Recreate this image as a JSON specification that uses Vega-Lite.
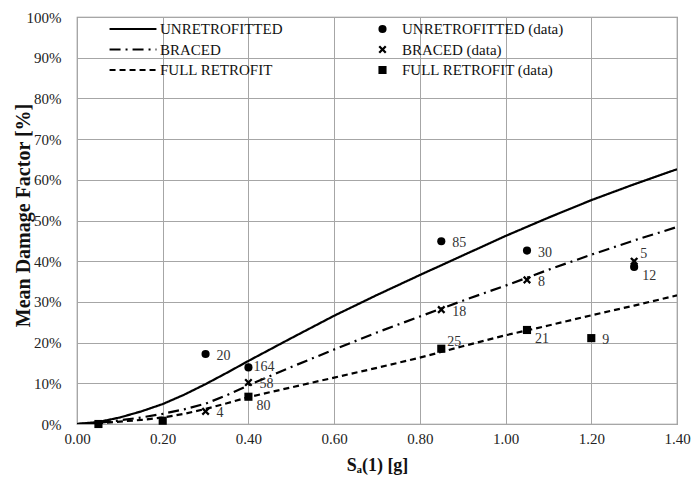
{
  "$schema": "https://vega.github.io/schema/vega-lite/v6.json",
  "width": 600,
  "height": 407,
  "autosize": {"type": "none"},
  "padding": {"left": 77, "top": 17, "right": 15, "bottom": 54},
  "background": "white",
  "config": {
    "font": "Liberation Serif",
    "view": {"stroke": "#8a8a8a", "strokeWidth": 1.2},
    "axis": {"gridColor": "#a6a6a6", "gridOpacity": 1, "gridWidth": 1, "domain": false, "ticks": false, "labelFlush": false, "labelFont": "Liberation Serif", "labelFontSize": 15, "labelColor": "#222", "titleFont": "Liberation Serif", "titleColor": "#111"}
  },
  "datasets": {
    "curves": [
      {"series": "UNRETROFITTED", "sa": 0, "mdf": 0},
      {"series": "UNRETROFITTED", "sa": 0.05, "mdf": 0.5},
      {"series": "UNRETROFITTED", "sa": 0.1, "mdf": 1.6},
      {"series": "UNRETROFITTED", "sa": 0.15, "mdf": 3.1},
      {"series": "UNRETROFITTED", "sa": 0.2, "mdf": 4.9},
      {"series": "UNRETROFITTED", "sa": 0.25, "mdf": 7.2},
      {"series": "UNRETROFITTED", "sa": 0.3, "mdf": 9.8},
      {"series": "UNRETROFITTED", "sa": 0.35, "mdf": 12.6},
      {"series": "UNRETROFITTED", "sa": 0.4, "mdf": 15.5},
      {"series": "UNRETROFITTED", "sa": 0.5, "mdf": 21.1},
      {"series": "UNRETROFITTED", "sa": 0.6, "mdf": 26.6},
      {"series": "UNRETROFITTED", "sa": 0.7, "mdf": 31.7},
      {"series": "UNRETROFITTED", "sa": 0.8, "mdf": 36.6},
      {"series": "UNRETROFITTED", "sa": 0.9, "mdf": 41.4},
      {"series": "UNRETROFITTED", "sa": 1.0, "mdf": 46.2},
      {"series": "UNRETROFITTED", "sa": 1.1, "mdf": 50.7},
      {"series": "UNRETROFITTED", "sa": 1.2, "mdf": 55.0},
      {"series": "UNRETROFITTED", "sa": 1.3, "mdf": 58.9},
      {"series": "UNRETROFITTED", "sa": 1.4, "mdf": 62.6},
      {"series": "BRACED", "sa": 0, "mdf": 0},
      {"series": "BRACED", "sa": 0.05, "mdf": 0.3},
      {"series": "BRACED", "sa": 0.1, "mdf": 0.9},
      {"series": "BRACED", "sa": 0.15, "mdf": 1.6},
      {"series": "BRACED", "sa": 0.2, "mdf": 2.5},
      {"series": "BRACED", "sa": 0.25, "mdf": 3.6},
      {"series": "BRACED", "sa": 0.3, "mdf": 5.0},
      {"series": "BRACED", "sa": 0.35, "mdf": 7.1},
      {"series": "BRACED", "sa": 0.4, "mdf": 9.5},
      {"series": "BRACED", "sa": 0.5, "mdf": 14.0},
      {"series": "BRACED", "sa": 0.6, "mdf": 18.3},
      {"series": "BRACED", "sa": 0.7, "mdf": 22.5},
      {"series": "BRACED", "sa": 0.8, "mdf": 26.4},
      {"series": "BRACED", "sa": 0.9, "mdf": 30.3},
      {"series": "BRACED", "sa": 1.0, "mdf": 34.0},
      {"series": "BRACED", "sa": 1.1, "mdf": 37.9},
      {"series": "BRACED", "sa": 1.2, "mdf": 41.6},
      {"series": "BRACED", "sa": 1.3, "mdf": 45.1},
      {"series": "BRACED", "sa": 1.4, "mdf": 48.4},
      {"series": "FULL RETROFIT", "sa": 0, "mdf": 0},
      {"series": "FULL RETROFIT", "sa": 0.05, "mdf": 0.2},
      {"series": "FULL RETROFIT", "sa": 0.1, "mdf": 0.6},
      {"series": "FULL RETROFIT", "sa": 0.15, "mdf": 1.0},
      {"series": "FULL RETROFIT", "sa": 0.2, "mdf": 1.6},
      {"series": "FULL RETROFIT", "sa": 0.25, "mdf": 2.5},
      {"series": "FULL RETROFIT", "sa": 0.3, "mdf": 3.7},
      {"series": "FULL RETROFIT", "sa": 0.35, "mdf": 5.1},
      {"series": "FULL RETROFIT", "sa": 0.4, "mdf": 6.6},
      {"series": "FULL RETROFIT", "sa": 0.5, "mdf": 9.0},
      {"series": "FULL RETROFIT", "sa": 0.6, "mdf": 11.4},
      {"series": "FULL RETROFIT", "sa": 0.7, "mdf": 13.8},
      {"series": "FULL RETROFIT", "sa": 0.8, "mdf": 16.3},
      {"series": "FULL RETROFIT", "sa": 0.9, "mdf": 19.1},
      {"series": "FULL RETROFIT", "sa": 1.0, "mdf": 21.8},
      {"series": "FULL RETROFIT", "sa": 1.1, "mdf": 24.2},
      {"series": "FULL RETROFIT", "sa": 1.2, "mdf": 26.7},
      {"series": "FULL RETROFIT", "sa": 1.3, "mdf": 29.1},
      {"series": "FULL RETROFIT", "sa": 1.4, "mdf": 31.6}
    ],
    "obs": [
      {"series": "UNRETROFITTED (data)", "sa": 0.30, "mdf": 17.2, "n": "20"},
      {"series": "UNRETROFITTED (data)", "sa": 0.40, "mdf": 13.9, "n": "164"},
      {"series": "UNRETROFITTED (data)", "sa": 0.85, "mdf": 44.9, "n": "85"},
      {"series": "UNRETROFITTED (data)", "sa": 1.05, "mdf": 42.6, "n": "30"},
      {"series": "UNRETROFITTED (data)", "sa": 1.30, "mdf": 38.6, "n": "12"},
      {"series": "BRACED (data)", "sa": 0.30, "mdf": 3.1, "n": "4"},
      {"series": "BRACED (data)", "sa": 0.40, "mdf": 10.2, "n": "58"},
      {"series": "BRACED (data)", "sa": 0.85, "mdf": 28.1, "n": "18"},
      {"series": "BRACED (data)", "sa": 1.05, "mdf": 35.4, "n": "8"},
      {"series": "BRACED (data)", "sa": 1.30, "mdf": 40.0, "n": "5"},
      {"series": "FULL RETROFIT (data)", "sa": 0.05, "mdf": 0.0, "n": ""},
      {"series": "FULL RETROFIT (data)", "sa": 0.20, "mdf": 0.8, "n": ""},
      {"series": "FULL RETROFIT (data)", "sa": 0.40, "mdf": 6.7, "n": "80"},
      {"series": "FULL RETROFIT (data)", "sa": 0.85, "mdf": 18.5, "n": "25"},
      {"series": "FULL RETROFIT (data)", "sa": 1.05, "mdf": 23.1, "n": "21"},
      {"series": "FULL RETROFIT (data)", "sa": 1.20, "mdf": 21.1, "n": "9"}
    ]
  },
  "encoding": {
    "x": {"field": "sa", "type": "quantitative", "scale": {"domain": [0, 1.4], "nice": false, "zero": false},
      "axis": {"values": [0, 0.2, 0.4, 0.6, 0.8, 1.0, 1.2, 1.4], "format": ".2f", "labelPadding": 7, "title": "Sₐ(1) [g]", "titleFontSize": 18, "titleFontWeight": "bold", "titlePadding": 10}},
    "y": {"field": "mdf", "type": "quantitative", "scale": {"domain": [0, 100], "nice": false},
      "axis": {"values": [0, 10, 20, 30, 40, 50, 60, 70, 80, 90, 100], "labelExpr": "datum.value + '%'", "labelPadding": 16, "title": "Mean Damage Factor [%]", "titleFontSize": 20, "titleFontWeight": "bold", "titleAngle": -90, "titleAlign": "center", "titleBaseline": "middle", "titleX": -54, "titleY": 198}}
  },
  "layer": [
    {
      "data": {"name": "curves"},
      "mark": {"type": "line", "color": "black", "strokeWidth": 2.2, "clip": true},
      "encoding": {
        "detail": {"field": "series"},
        "strokeDash": {"field": "series", "type": "nominal",
          "scale": {"domain": ["UNRETROFITTED", "BRACED", "FULL RETROFIT"], "range": [[1, 0], [11, 5, 2, 5], [6, 4]]},
          "legend": {"orient": "none", "legendX": 31, "legendY": 4.5, "title": null, "symbolType": "stroke", "symbolSize": 2200, "clipHeight": 15, "symbolStrokeWidth": 2.2, "symbolStrokeColor": "black", "labelFontSize": 15, "labelColor": "#111", "labelOffset": 2, "labelLimit": 300, "rowPadding": 4.5, "padding": 0}}
      }
    },
    {
      "data": {"name": "obs"},
      "mark": {"type": "point", "filled": true, "color": "black", "opacity": 1, "size": 66},
      "encoding": {
        "shape": {"field": "series", "type": "nominal",
          "scale": {"domain": ["UNRETROFITTED (data)", "BRACED (data)", "FULL RETROFIT (data)"], "range": ["circle", "M0.604,-1L1,-0.604L0.396,0L1,0.604L0.604,1L0,0.396L-0.604,1L-1,0.604L-0.396,0L-1,-0.604L-0.604,-1L0,-0.396Z", "square"]},
          "legend": {"orient": "none", "legendX": 298, "legendY": 4.5, "title": null, "symbolSize": 66, "clipHeight": 15, "symbolFillColor": "black", "symbolStrokeColor": "black", "symbolStrokeWidth": 0, "labelFontSize": 15, "labelColor": "#111", "labelOffset": 12, "labelLimit": 300, "rowPadding": 4.5, "padding": 0}}
      }
    },
    {
      "data": {"name": "obs"},
      "transform": [{"filter": "indexof(['20','58','4','85','30','18','8','9'], datum.n) >= 0"}],
      "mark": {"type": "text", "align": "left", "baseline": "middle", "dx": 11, "dy": 2, "fontSize": 14, "color": "#333"},
      "encoding": {"text": {"field": "n"}}
    },
    {
      "data": {"name": "obs"},
      "transform": [{"filter": "datum.n == '164'"}],
      "mark": {"type": "text", "align": "left", "baseline": "middle", "dx": 5, "dy": 0, "fontSize": 14, "color": "#333"},
      "encoding": {"text": {"field": "n"}}
    },
    {
      "data": {"name": "obs"},
      "transform": [{"filter": "indexof(['80','12','21'], datum.n) >= 0"}],
      "mark": {"type": "text", "align": "left", "baseline": "middle", "dx": 8, "dy": 9, "fontSize": 14, "color": "#333"},
      "encoding": {"text": {"field": "n"}}
    },
    {
      "data": {"name": "obs"},
      "transform": [{"filter": "indexof(['5','25'], datum.n) >= 0"}],
      "mark": {"type": "text", "align": "left", "baseline": "middle", "dx": 6, "dy": -7, "fontSize": 14, "color": "#333"},
      "encoding": {"text": {"field": "n"}}
    }
  ]
}
